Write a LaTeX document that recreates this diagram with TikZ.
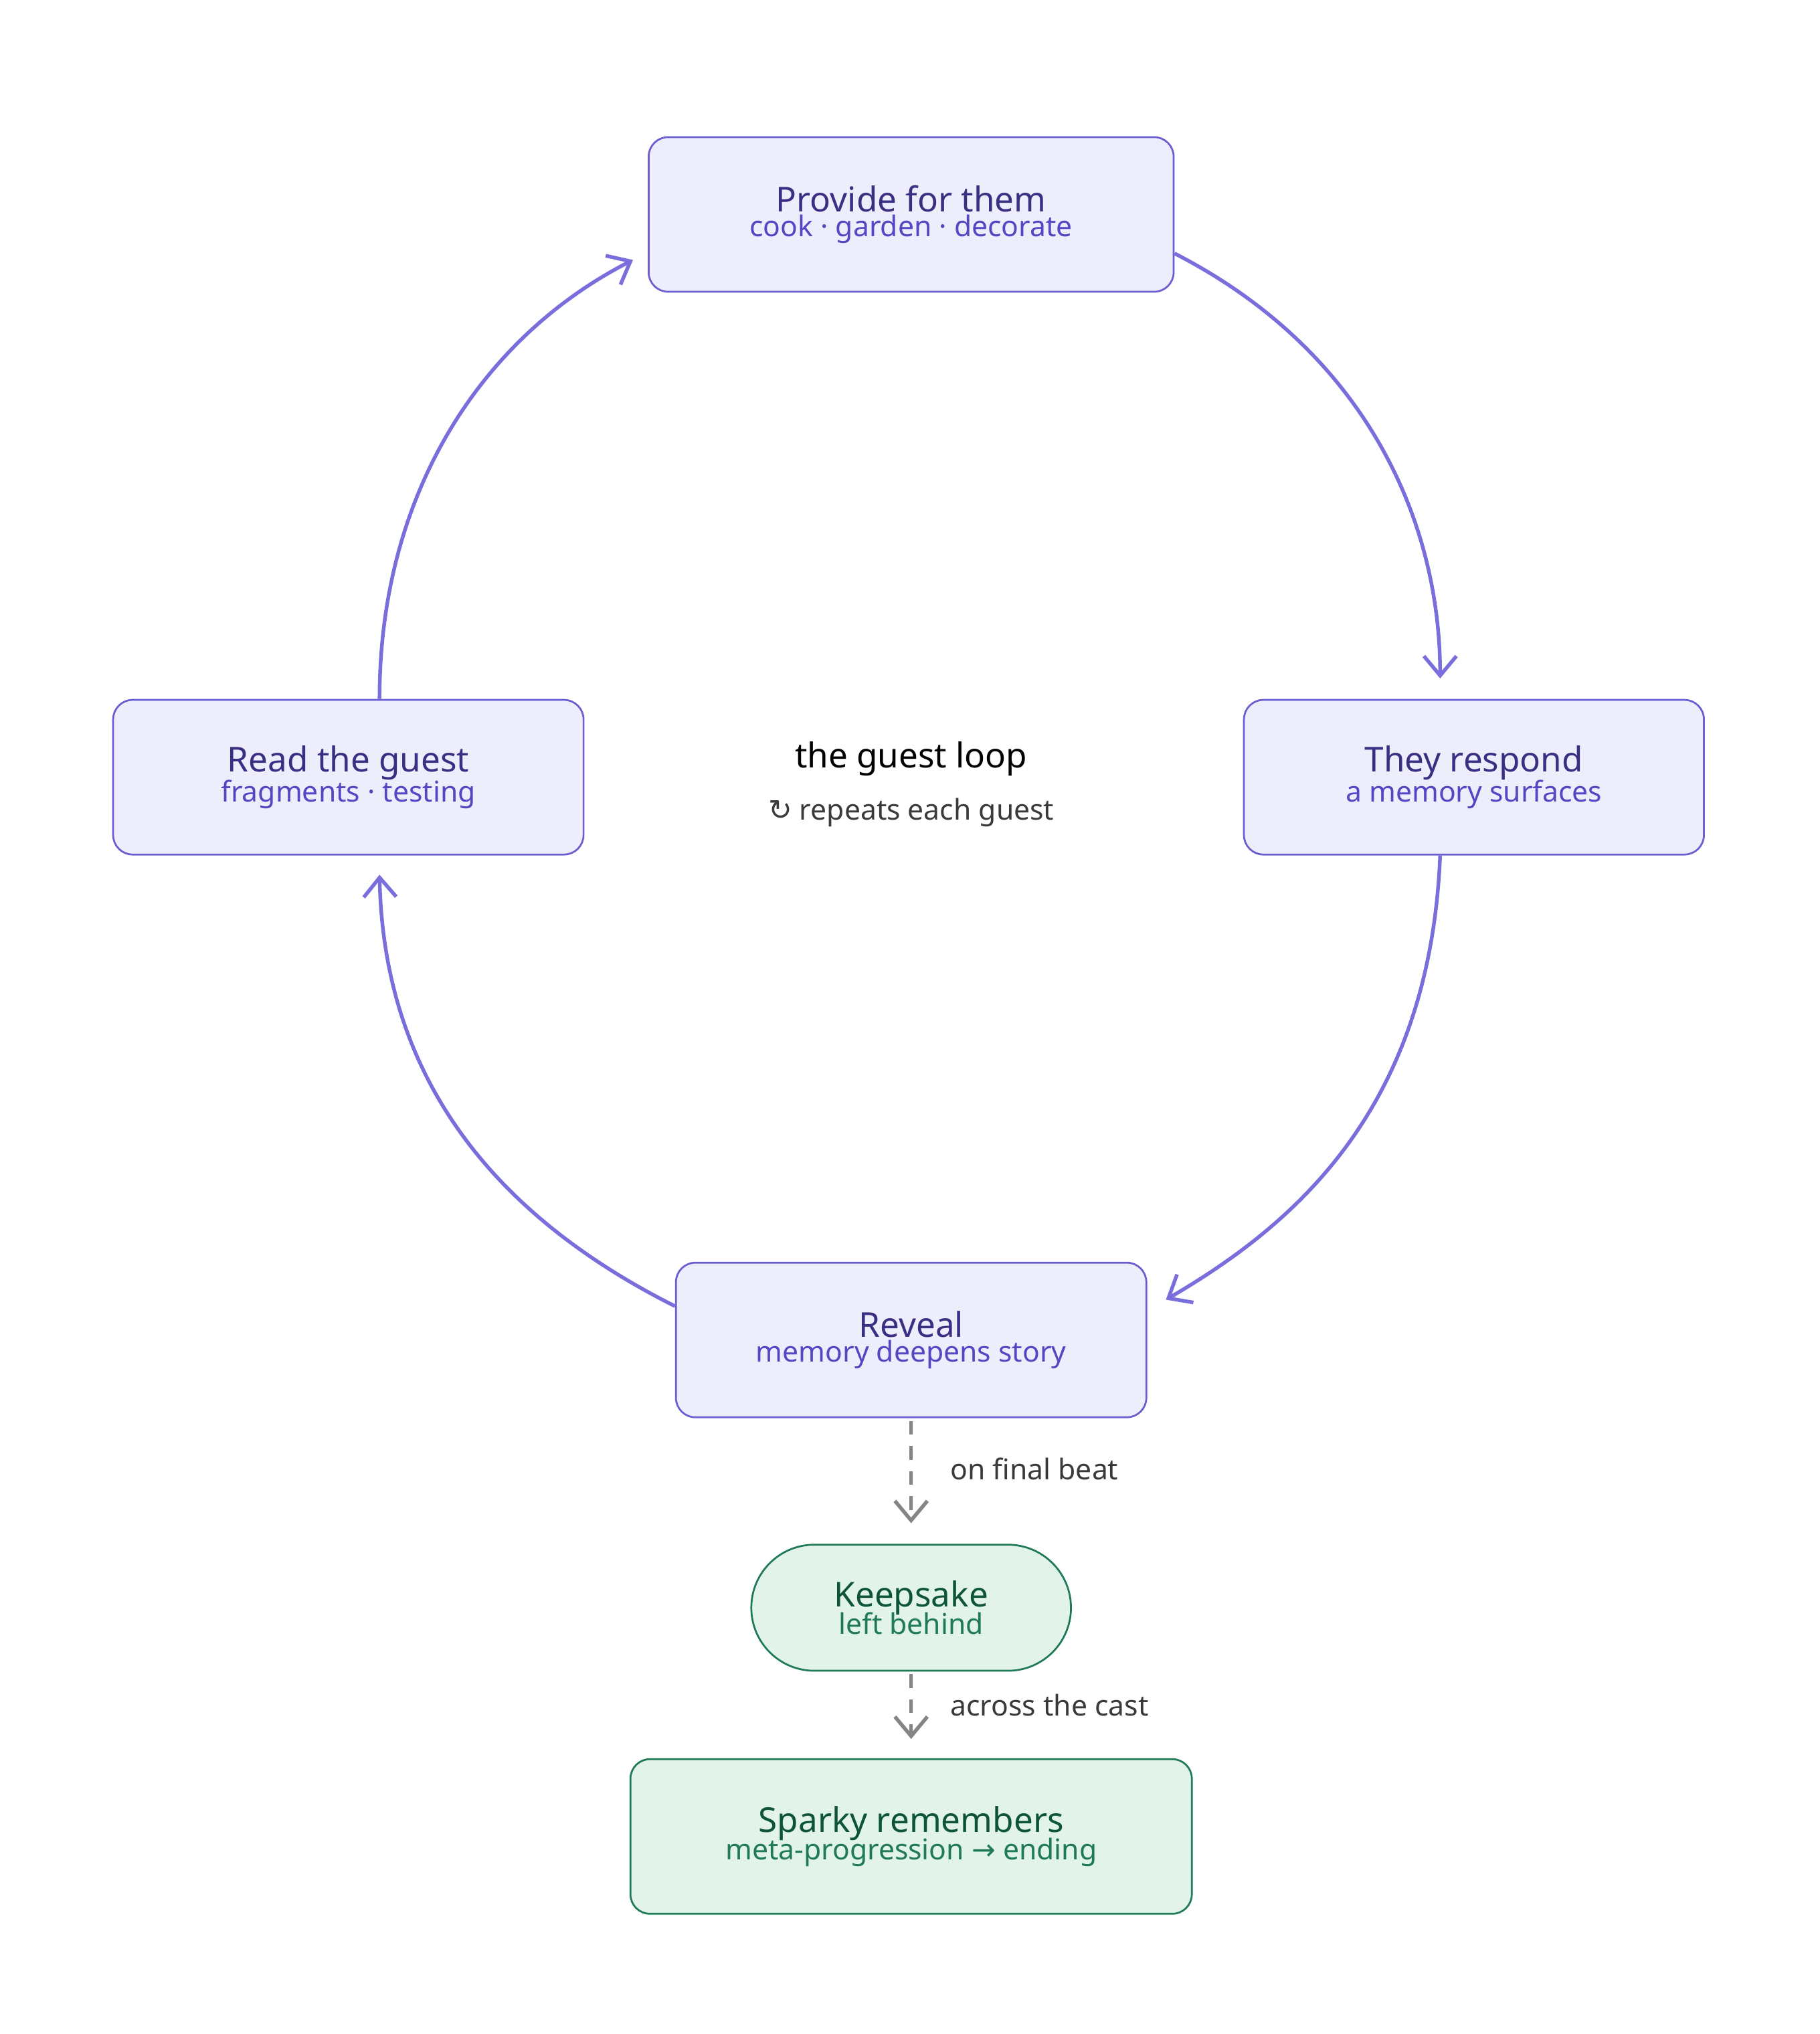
\documentclass[tikz,border=0pt]{standalone}
\usepackage{fontspec}
\setmainfont{Noto Sans}
\newfontfamily\symfont{DejaVu Sans}
\usetikzlibrary{arrows.meta,calc}
\definecolor{loopfill}{HTML}{EEEDFC}
\definecolor{loopdraw}{HTML}{6A5ED0}
\definecolor{looptitle}{HTML}{3A2F82}
\definecolor{loopsub}{HTML}{5646C4}
\definecolor{looparrow}{HTML}{7A6EDC}
\definecolor{endfill}{HTML}{E1F3EB}
\definecolor{enddraw}{HTML}{1F7A55}
\definecolor{endtitle}{HTML}{0E5538}
\definecolor{endsub}{HTML}{1F7A55}
\definecolor{dashgray}{HTML}{858585}
\definecolor{labelgray}{HTML}{3A3A3A}
\newcommand{\stepbox}[2]{{\fontsize{15}{23}\selectfont\bfseries #1}\\[-1pt]{\fontsize{12.5}{16}\selectfont\color{loopsub}#2}}
\newcommand{\goalbox}[2]{{\fontsize{15}{21}\selectfont\bfseries #1}\\[-2pt]{\fontsize{12.5}{16}\selectfont\color{endsub}#2}}
\begin{document}
\begin{tikzpicture}[x=0.02cm,y=-0.02cm,
	loopstep/.style={draw=loopdraw, fill=loopfill, rounded corners=0.3cm, line width=0.8pt, text=looptitle, align=center, minimum height=2.38cm},
	goal/.style={draw=enddraw, fill=endfill, line width=0.8pt, text=endtitle, align=center},
	flow/.style={looparrow, line width=1.6pt, -{Straight Barb[length=3mm,width=5mm]}},
	beat/.style={dashgray, line width=1.6pt, dash pattern=on 6pt off 5pt, -{Straight Barb[length=3mm,width=5mm]}},
	note/.style={text=labelgray, font=\fontsize{12.5}{16}\selectfont, anchor=west}]
	\useasboundingbox (0,0) rectangle (1400,1565);
	%loop steps
	\node[loopstep, minimum width=8.08cm] (prov) at (701,165) {\stepbox{Provide for them}{cook · garden · decorate}};
	\node[loopstep, minimum width=7.08cm] (resp) at (1134,598) {\stepbox{They respond}{a memory surfaces}};
	\node[loopstep, minimum width=7.24cm] (read) at (268,598) {\stepbox{Read the guest}{fragments · testing}};
	\node[loopstep, minimum width=7.24cm] (reveal) at (701,1031) {\stepbox{Reveal}{memory deepens story}};
	%centre
	\node[font=\fontsize{15}{18}\selectfont\bfseries] (loop) at (701,584) {the guest loop};
	\node[text=labelgray, font=\fontsize{12.5}{16}\selectfont] (rep) at (701,625) {{\symfont ↻} repeats each guest};
	%ending
	\node[goal, rounded corners=0.97cm, minimum width=4.92cm, minimum height=1.94cm] (keep) at (701,1237) {\goalbox{Keepsake}{left behind}};
	\node[goal, rounded corners=0.3cm, minimum width=8.64cm, minimum height=2.38cm] (spark) at (701,1413) {\goalbox{Sparky remembers}{meta-progression {\symfont →} ending}};
	%loop arrows
	\coordinate (respin) at (1108,522);
	\coordinate (revin) at (897,1000);
	\coordinate (readin) at (292,673);
	\coordinate (provin) at (487,200);
	\draw[flow] ($(prov.east)+(0,30)$) .. controls (1050,270) and (1108,400) .. (respin);
	\draw[flow] (resp.south-|respin) .. controls (1100,850) and (1000,940) .. (revin);
	\draw[flow] ($(reveal.west)+(0,-26)$) .. controls (370,930) and (295,820) .. (readin);
	\draw[flow] (read.north-|readin) .. controls (292,380) and (370,260) .. (provin);
	%dashed steps
	\coordinate (keepin) at (701,1172);
	\coordinate (sparkin) at (701,1338);
	\draw[beat] ($(reveal.south)+(0,2)$) -- (keepin);
	\draw[beat] ($(keep.south)+(0,2)$) -- (sparkin);
	\node[note] (final) at (725,1130) {on final beat};
	\node[note] (cast) at (725,1312) {across the cast};
\end{tikzpicture}
\end{document}
